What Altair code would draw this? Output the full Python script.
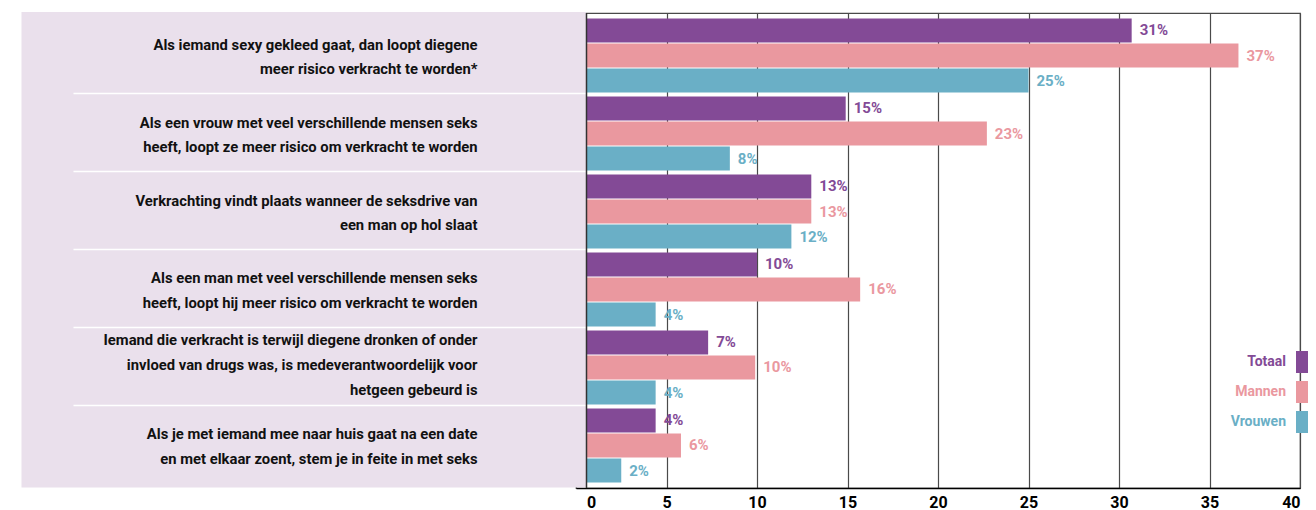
import altair as alt
import pandas as pd

categories = [
    "Als iemand sexy gekleed gaat, dan loopt diegene\nmeer risico verkracht te worden*",
    "Als een vrouw met veel verschillende mensen seks\nheeft, loopt ze meer risico om verkracht te worden",
    "Verkrachting vindt plaats wanneer de seksdrive van\neen man op hol slaat",
    "Als een man met veel verschillende mensen seks\nheeft, loopt hij meer risico om verkracht te worden",
    "Iemand die verkracht is terwijl diegene dronken of onder\ninvloed van drugs was, is medeverantwoordelijk voor\nhetgeen gebeurd is",
    "Als je met iemand mee naar huis gaat na een date\nen met elkaar zoent, stem je in feite in met seks",
]
series = ["Totaal", "Mannen", "Vrouwen"]
totaal = [30.7, 14.9, 13.0, 10.0, 7.3, 4.4]
mannen = [36.6, 22.7, 13.0, 15.7, 9.9, 5.8]
vrouwen = [25.0, 8.5, 11.9, 4.4, 4.4, 2.5]
totaal_labels = ["31%", "15%", "13%", "10%", "7%", "4%"]
mannen_labels = ["37%", "23%", "13%", "16%", "10%", "6%"]
vrouwen_labels = ["25%", "8%", "12%", "4%", "4%", "2%"]
x_ticks = [0, 5, 10, 15, 20, 25, 30, 35, 40]
colors = ["#834a96", "#ea989f", "#6aafc6"]

rows = []
for s, vals, labs in zip(series, [totaal, mannen, vrouwen],
                         [totaal_labels, mannen_labels, vrouwen_labels]):
    for c, v, l in zip(categories, vals, labs):
        rows.append({"cat": c, "series": s, "value": v, "label": l})
df = pd.DataFrame(rows)
cat_df = pd.DataFrame({"cat": categories,
                       "nlines": [c.count("\n") + 1 for c in categories]})
sep_df = pd.DataFrame({"cat": categories[:-1]})
one = pd.DataFrame({"a": [0]})

FONT = "Roboto"
W, H = 724, 475

y_enc = alt.Y("cat:N", sort=categories, axis=None,
              scale=alt.Scale(paddingInner=0.05, paddingOuter=0.07))
color_enc = alt.Color(
    "series:N", sort=series,
    scale=alt.Scale(domain=series, range=colors),
    legend=alt.Legend(
        title=None, orient="none", legendX=720, legendY=338,
        symbolType="M-1,-1H0.09V1H-1Z", symbolSize=484, symbolStrokeWidth=0,
        symbolOpacity=1, labelAlign="right", labelOffset={"expr": "-32"},
        labelFont=FONT, labelFontWeight="bold", labelFontSize=14,
        labelColor={"expr": "datum.label == 'Totaal' ? '#834a96' : datum.label == 'Mannen' ? '#ea989f' : '#6aafc6'"},
        rowPadding=8, padding=0, offset=0,
    ),
)

x_enc = alt.X(
    "value:Q",
    scale=alt.Scale(domain=[0, 40], nice=False),
    axis=alt.Axis(
        values=x_ticks, title=None, ticks=False, grid=True,
        gridColor="#4a4a4a", gridWidth=1.2, gridOpacity=1,
        domainColor="#000000", domainWidth=1.5,
        labelFont=FONT, labelFontWeight="bold", labelFontSize=16,
        labelColor="#000000", labelPadding=6,
        labelOffset={"condition": {"test": "datum.value === 0", "value": 10.5}, "value": 0},
    ),
)

bars = alt.Chart(df).mark_bar().encode(
    x=x_enc,
    y=y_enc,
    yOffset=alt.YOffset("series:N", sort=series,
                        scale=alt.Scale(paddingInner=0.04, paddingOuter=0)),
    color=color_enc,
)

bar_labels = alt.Chart(df).mark_text(
    align="left", baseline="middle", dx=8, font=FONT,
    fontWeight="bold", fontSize=15,
).encode(
    x="value:Q",
    y=alt.Y("cat:N", sort=categories, axis=None),
    yOffset=alt.YOffset("series:N", sort=series),
    text="label:N",
    color=alt.Color("series:N", sort=series, legend=None),
)

panel = alt.Chart(one).mark_rect(color="#eae0ec").encode(
    x=alt.value(-554.5), x2=alt.value(10), y=alt.value(-1), y2=alt.value(474.5),
)

separators = alt.Chart(sep_df).mark_rule(color="#ffffff", strokeWidth=1.5, yOffset=1).encode(
    y=alt.Y("cat:N", sort=categories, axis=None, bandPosition=1),
    x=alt.value(-502.5), x2=alt.value(10),
)


def cat_text(n, dy):
    return alt.Chart(cat_df).transform_filter(
        f"datum.nlines == {n}"
    ).mark_text(
        align="right", baseline="middle", lineBreak="\n", lineHeight=24.8,
        font=FONT, fontWeight="bold", fontSize=14.8, color="#111111", dy=dy,
    ).encode(
        y=alt.Y("cat:N", sort=categories, axis=None),
        x=alt.value(-98.5),
        text="cat:N",
    )


cat_labels2 = cat_text(2, -10)
cat_labels3 = cat_text(3, -26)

left_axis = alt.Chart(one).mark_rule(color="#333333", strokeWidth=1.5).encode(
    x=alt.value(10.5), y=alt.value(0), y2=alt.value(H),
)

chart = alt.layer(
    bars, panel, separators, cat_labels2, cat_labels3, left_axis, bar_labels
).properties(
    width=W, height=H,
    padding={"left": 13, "top": 4, "right": 0, "bottom": 0},
).configure_view(
    stroke="#4a4a4a", strokeWidth=1.2,
)

chart.save("out.html", embed_options={"renderer": "svg", "actions": False})
